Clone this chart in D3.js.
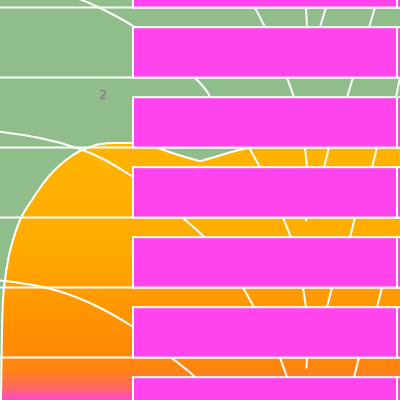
<!DOCTYPE html>
<html>
<head>
<meta charset="utf-8">
<script src="https://cdn.jsdelivr.net/npm/d3@7"></script>
<style>
body { margin: 0; }
svg { display: block; }
</style>
</head>
<body>
<svg id="chart" width="400" height="400"></svg>
<script>
// rows of the bar layer (top one is cut off by the frame)
const rows = ['r0', 'r1', 'r2', 'r3', 'r4', 'r5', 'r6']
const barStart = [33.25, 33.25, 33.25, 33.25, 33.25, 33.25, 33.25]
const barEnd = [99.25, 99.25, 99.25, 99.25, 99.25, 99.25, 99.25]
const barRest = [106, 106, 106, 106, 106, 106, 106]

// area series
const areaX = [0.25, 0.375, 0.5, 0.75, 1.25, 2, 3.25, 5, 7.5, 10, 12.5, 15, 17.5, 20, 22.5, 25, 28.75, 32.5, 37.5, 39.5, 49, 50, 51, 62, 65.5, 100]
const areaY = [0, 10, 17.5, 25, 30, 35, 40, 45, 49.25, 53, 56.25, 58.75, 60.75, 62.25, 63.25, 64, 64.25, 64.25, 63.75, 63, 60, 59.75, 60, 63, 63.5, 63.5]

// thin curves
const curveAX = [15, 20.5, 27.5, 33.25, 41.25, 50, 52.5, 54.5]
const curveAY = [101.25, 100, 96.75, 93.5, 87.5, 79.25, 75.75, 72]
const curveBX = [-1.25, 10, 20, 26.25, 32.5, 40, 45.75, 50, 53.75]
const curveBY = [67.25, 65.5, 62.75, 60, 56.25, 50.75, 45.5, 41.75, 37.5]
const curveCX = [-1.25, 10.75, 22.5, 32.5, 38.75, 43.25, 48.25, 51.25]
const curveCY = [30, 28.25, 24.25, 18.75, 14.25, 10.25, 6.25, 2.5]

// spokes seen in the gaps between bars
const spokeGap = [1, 1, 1, 1, 2, 2, 2, 3, 3, 3, 3, 4, 4, 4, 5, 5, 5, 5, 6, 6, 6]
const spokeTop = [63.75, 76.5, 81.5, 93.75, 71.75, 88.25, 100, 62.25, 76.25, 82.25, 94.25, 70.75, 76.5, 88.75, 60.75, 75.75, 83, 95.5, 70, 76.75, 89.75]
const spokeBottom = [66.25, 76.75, 80, 92.25, 73.5, 86.75, 99, 65, 76.75, 81, 93, 72.75, 76.75, 87.5, 63.5, 76.5, 81.75, 94.25, 71.75, 76.5, 88.5]
const spokeLen = [1, 1, 1, 1, 1, 1, 1, 1, 1, 1, 1, 1, 0.2, 1, 1, 1, 1, 1, 1, 0.55, 1]

const labels = ['2']
const labelX = [25.75]
const labelY = [75.25]

const width = 400
const height = 400
const green = '#8fbe8b'
const magenta = '#ff44ee'
const svg = d3.select('#chart')

const x = d3.scaleLinear().domain([0, 100]).range([0, width])
const y = d3.scaleLinear().domain([0, 100]).range([height, 0])
const yBand = d3.scaleBand()
	.domain(rows)
	.range([-42.8, 427.6])
	.paddingInner(0.28)
	.paddingOuter(0)

svg.append('rect')
	.attr('width', width)
	.attr('height', height)
	.attr('fill', green)

const grad = svg.append('defs')
	.append('linearGradient')
	.attr('id', 'areaGrad')
	.attr('gradientUnits', 'userSpaceOnUse')
	.attr('x1', 0).attr('x2', 0)
	.attr('y1', y(64.25)).attr('y2', height)

const stops = [[0, '#ffb400'], [0.4, '#ffab00'], [0.75, '#ff8e00'], [0.88, '#ff8410'], [0.95, '#ff6a60'], [1, '#ff48c8']]
stops.forEach(s => {
	grad.append('stop').attr('offset', s[0]).attr('stop-color', s[1])
})

const areaPts = areaX.map((v, i) => [v, areaY[i]])

svg.append('path')
	.datum(areaPts)
	.attr('fill', 'url(#areaGrad)')
	.attr('d', d3.area()
		.x(d => x(d[0]))
		.y0(height)
		.y1(d => y(d[1]))
		.curve(d3.curveMonotoneX))

svg.append('path')
	.datum(areaPts)
	.attr('fill', 'none')
	.attr('stroke', 'white')
	.attr('stroke-width', 2)
	.attr('d', d3.line()
		.x(d => x(d[0]))
		.y(d => y(d[1]))
		.curve(d3.curveMonotoneX))

// grid lines sit on the bottom of each bar
svg.selectAll('line.grid')
	.data(rows.slice(0, 6))
	.enter()
	.append('line')
		.attr('class', 'grid')
		.attr('x1', 0)
		.attr('x2', width)
		.attr('y1', d => yBand(d) + yBand.bandwidth())
		.attr('y2', d => yBand(d) + yBand.bandwidth())
		.attr('stroke', 'white')
		.attr('stroke-width', 2)

const curveLine = d3.line()
	.x(d => x(d[0]))
	.y(d => y(d[1]))
	.curve(d3.curveNatural)

const curves = [[curveAX, curveAY], [curveBX, curveBY], [curveCX, curveCY]]
curves.forEach(c => {
	svg.append('path')
		.datum(c[0].map((v, i) => [v, c[1][i]]))
		.attr('fill', 'none')
		.attr('stroke', 'white')
		.attr('stroke-width', 2)
		.attr('d', curveLine)
})

spokeGap.forEach((g, i) => {
	const y0 = yBand(rows[g - 1]) + yBand.bandwidth()
	const y1 = yBand(rows[g])
	const x0 = x(spokeTop[i])
	const x1 = x(spokeBottom[i])
	const t = spokeLen[i]
	svg.append('line')
		.attr('x1', x0)
		.attr('y1', y0)
		.attr('x2', x0 + (x1 - x0) * t)
		.attr('y2', y0 + (y1 - y0) * t)
		.attr('stroke', 'white')
		.attr('stroke-width', 2)
})

const bars = svg.selectAll('g.bar')
	.data(rows)
	.enter()
	.append('g')
		.attr('class', 'bar')
		.attr('transform', d => `translate(0, ${yBand(d)})`)

bars.append('rect')
	.attr('x', (d, i) => x(barStart[i]))
	.attr('width', (d, i) => x(barEnd[i]) - x(barStart[i]))
	.attr('height', yBand.bandwidth())
	.attr('fill', magenta)
	.attr('stroke', 'white')
	.attr('stroke-width', 2)

bars.append('rect')
	.attr('x', (d, i) => x(barEnd[i]))
	.attr('width', (d, i) => x(barRest[i]) - x(barEnd[i]))
	.attr('height', yBand.bandwidth())
	.attr('fill', magenta)
	.attr('stroke', 'white')
	.attr('stroke-width', 2)

svg.selectAll('text.lbl')
	.data(labels)
	.enter()
	.append('text')
		.attr('class', 'lbl')
		.attr('x', (d, i) => x(labelX[i]))
		.attr('y', (d, i) => y(labelY[i]))
		.attr('text-anchor', 'middle')
		.attr('font-family', 'DejaVu Sans, sans-serif')
		.attr('font-size', '12px')
		.attr('fill', '#777')
		.text(d => d)
</script>
</body>
</html>
